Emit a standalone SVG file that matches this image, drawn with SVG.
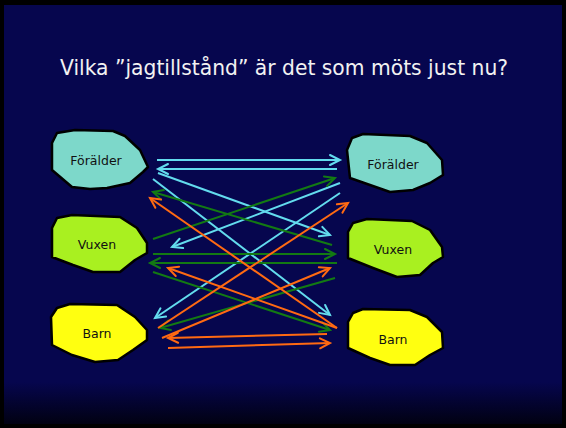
<svg xmlns="http://www.w3.org/2000/svg" width="566" height="428" viewBox="0 0 566 428">
<defs>
<linearGradient id="bg" x1="0" y1="0" x2="0" y2="1">
<stop offset="0" stop-color="#06064E"/>
<stop offset="0.9" stop-color="#06064E"/>
<stop offset="1" stop-color="#010112"/>
</linearGradient>
<marker id="mc" markerUnits="userSpaceOnUse" markerWidth="20" markerHeight="20" refX="0" refY="0" viewBox="-12 -10 14 20" orient="auto"><path d="M-10,-5 L0,0 L-10,5" fill="none" stroke="#63DCEE" stroke-width="2" stroke-linecap="round"/></marker>
<marker id="mg" markerUnits="userSpaceOnUse" markerWidth="20" markerHeight="20" refX="0" refY="0" viewBox="-12 -10 14 20" orient="auto"><path d="M-10,-5 L0,0 L-10,5" fill="none" stroke="#137A13" stroke-width="2" stroke-linecap="round"/></marker>
<marker id="mo" markerUnits="userSpaceOnUse" markerWidth="20" markerHeight="20" refX="0" refY="0" viewBox="-12 -10 14 20" orient="auto"><path d="M-10,-5 L0,0 L-10,5" fill="none" stroke="#FF6A12" stroke-width="2" stroke-linecap="round"/></marker>
</defs>
<style>
.node{stroke:#000;stroke-width:2.5;stroke-linejoin:round}
.lbl{font-family:"DejaVu Sans","Liberation Sans",sans-serif;font-size:12.5px;fill:#111;text-anchor:middle}
.c{stroke:#63DCEE;stroke-width:2;fill:none;marker-end:url(#mc)}
.g{stroke:#137A13;stroke-width:2;fill:none;marker-end:url(#mg)}
.o{stroke:#FF6A12;stroke-width:2;fill:none;marker-end:url(#mo)}
</style>
<rect x="0" y="0" width="566" height="428" fill="#000"/>
<rect x="4" y="5" width="558" height="419" fill="url(#bg)"/>
<text x="284" y="75" font-family="DejaVu Sans, 'Liberation Sans', sans-serif" font-size="21" fill="#F2F2F2" text-anchor="middle" textLength="448" lengthAdjust="spacingAndGlyphs">Vilka ”jagtillstånd” är det som möts just nu?</text>

<g id="connectors">
<line class="c" x1="157" y1="160" x2="340" y2="160"/>
<line class="c" x1="337" y1="169" x2="158" y2="169"/>
<line class="c" x1="158" y1="173" x2="330" y2="235"/>
<line class="c" x1="153" y1="179" x2="330" y2="315"/>
<line class="c" x1="340" y1="183" x2="172" y2="247"/>
<line class="c" x1="340" y1="193" x2="155" y2="318"/>
<line class="g" x1="153" y1="239" x2="335" y2="178"/>
<line class="g" x1="332" y1="245" x2="153" y2="192"/>
<line class="g" x1="153" y1="254" x2="335" y2="254"/>
<line class="g" x1="337" y1="263" x2="150" y2="263"/>
<line class="g" x1="153" y1="272" x2="330" y2="330"/>
<line class="g" x1="335" y1="278" x2="160" y2="328"/>
<line class="o" x1="337" y1="328" x2="150" y2="198"/>
<line class="o" x1="158" y1="328" x2="348" y2="203"/>
<line class="o" x1="337" y1="328" x2="168" y2="268"/>
<line class="o" x1="162" y1="338" x2="330" y2="268"/>
<line class="o" x1="327" y1="334" x2="168" y2="338"/>
<line class="o" x1="168" y1="348" x2="330" y2="343"/>
</g>

<g id="foralder-left">
<path class="node" fill="#7DD8CA" d="M52,143 L57,133 L75,130 L113,131 L125,136 L140,150 L148,167 L143,172 L130,183 L107,188 L90,189 L72,187 L52,170 Z"/>
<text class="lbl" x="96" y="165">Förälder</text>
</g>
<g id="vuxen-left">
<path class="node" fill="#A9F020" d="M52,228 L57,218 L72,215 L120,217 L137,228 L147,243 L147,253 L135,260 L120,272 L93,272 L73,265 L52,257 Z"/>
<text class="lbl" x="97" y="249">Vuxen</text>
</g>
<g id="barn-left">
<path class="node" fill="#FFFF10" d="M51,317 L57,308 L70,304 L117,305 L135,317 L147,330 L147,340 L133,350 L118,360 L95,362 L72,355 L52,345 Z"/>
<text class="lbl" x="97" y="338">Barn</text>
</g>
<g id="foralder-right">
<path class="node" fill="#7DD8CA" d="M347,150 L352,138 L363,134 L410,136 L427,143 L442,160 L443,175 L430,183 L413,190 L390,192 L370,185 L350,178 Z"/>
<text class="lbl" x="393" y="169">Förälder</text>
</g>
<g id="vuxen-right">
<path class="node" fill="#A9F020" d="M348,232 L353,223 L367,219 L412,221 L430,230 L442,247 L443,257 L433,263 L420,275 L397,277 L373,268 L348,258 Z"/>
<text class="lbl" x="393" y="254">Vuxen</text>
</g>
<g id="barn-right">
<path class="node" fill="#FFFF10" d="M348,322 L353,313 L363,309 L410,310 L427,317 L442,332 L443,348 L430,355 L415,365 L390,365 L370,358 L348,348 Z"/>
<text class="lbl" x="393" y="344">Barn</text>
</g>
</svg>
